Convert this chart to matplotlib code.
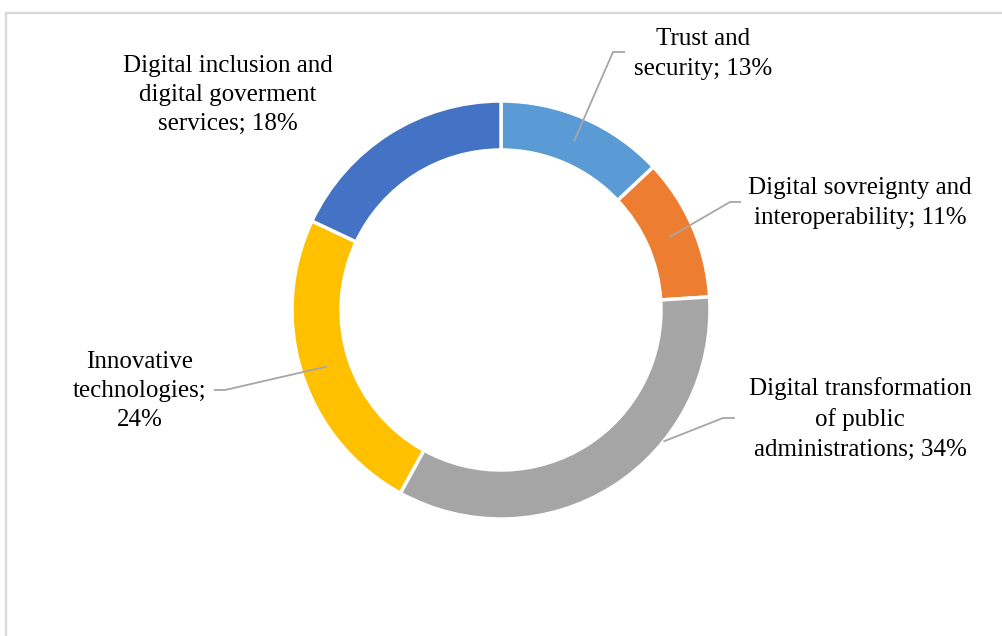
import numpy as np
import matplotlib.pyplot as plt
from matplotlib.patches import Rectangle

OUTPUT_PNG = "out.png"

CATEGORIES = [
    "Trust and\nsecurity; 13%",
    "Digital sovreignty and\ninteroperability; 11%",
    "Digital transformation\nof public\nadministrations; 34%",
    "Innovative\ntechnologies;\n24%",
    "Digital inclusion and\ndigital goverment\nservices; 18%",
]
SHARES = [13, 11, 34, 24, 18]
COLORS = ["#5B9BD5", "#ED7D31", "#A5A5A5", "#FFC000", "#4472C4"]

W, H = 1002, 636
CENTER = (501, H - 310)
R_OUT = 209
R_IN = 160

# label centre (pixel coords, y down) and whether a leader line is drawn
LABEL_POS = [(703, 54), (860, 203), (860, 419), (140, 391), (228, 95)]
LEADER = [True, True, True, True, False]
# where the leader meets the ring: (angle in deg or None for mid-wedge, radius)
ANCHOR = [(None, 184), (None, 184), (-39, 209), (None, 183), (None, 184)]
# elbow of the leader (pixel coords, y down) and short horizontal tail end
ELBOW = [(613, 52), (730, 202), (723, 418), (225, 390), None]
TAIL = [(625, 52), (741, 202), (735, 418), (214, 390), None]


def main():
    plt.rcParams["font.family"] = ["Liberation Serif", "DejaVu Serif"]
    fig = plt.figure(figsize=(W / 100, H / 100), dpi=100)
    ax = fig.add_axes([0, 0, 1, 1])

    wedges, _ = ax.pie(
        SHARES,
        colors=COLORS,
        startangle=90,
        counterclock=False,
        center=CENTER,
        radius=R_OUT,
        wedgeprops=dict(width=R_OUT - R_IN, edgecolor="white", linewidth=2.5),
    )
    ax.set_xlim(0, W)
    ax.set_ylim(0, H)
    ax.set_aspect("equal")
    ax.axis("off")

    # chart frame (runs off the right and bottom of the image)
    fig.patches.append(
        Rectangle((5.5 / W, -0.1), 1.2, (H - 12.5) / H + 0.1,
                  transform=fig.transFigure, fill=False,
                  edgecolor="#D9D9D9", linewidth=1.6)
    )

    for i, (w, label) in enumerate(zip(wedges, CATEGORIES)):
        lx, ly = LABEL_POS[i]
        ax.text(lx, H - ly, label, ha="center", va="center",
                fontsize=18, linespacing=1.43, color="black")
        if not LEADER[i]:
            continue
        ang, r = ANCHOR[i]
        if ang is None:
            ang = (w.theta1 + w.theta2) / 2
        ax0 = CENTER[0] + r * np.cos(np.radians(ang))
        ay0 = CENTER[1] + r * np.sin(np.radians(ang))
        ex, ey = ELBOW[i]
        tx, ty = TAIL[i]
        ax.plot([ax0, ex, tx], [ay0, H - ey, H - ty],
                color="#A6A6A6", linewidth=1.3, solid_capstyle="butt")

    fig.savefig(OUTPUT_PNG, dpi=100)
    plt.close(fig)


if __name__ == "__main__":
    main()
